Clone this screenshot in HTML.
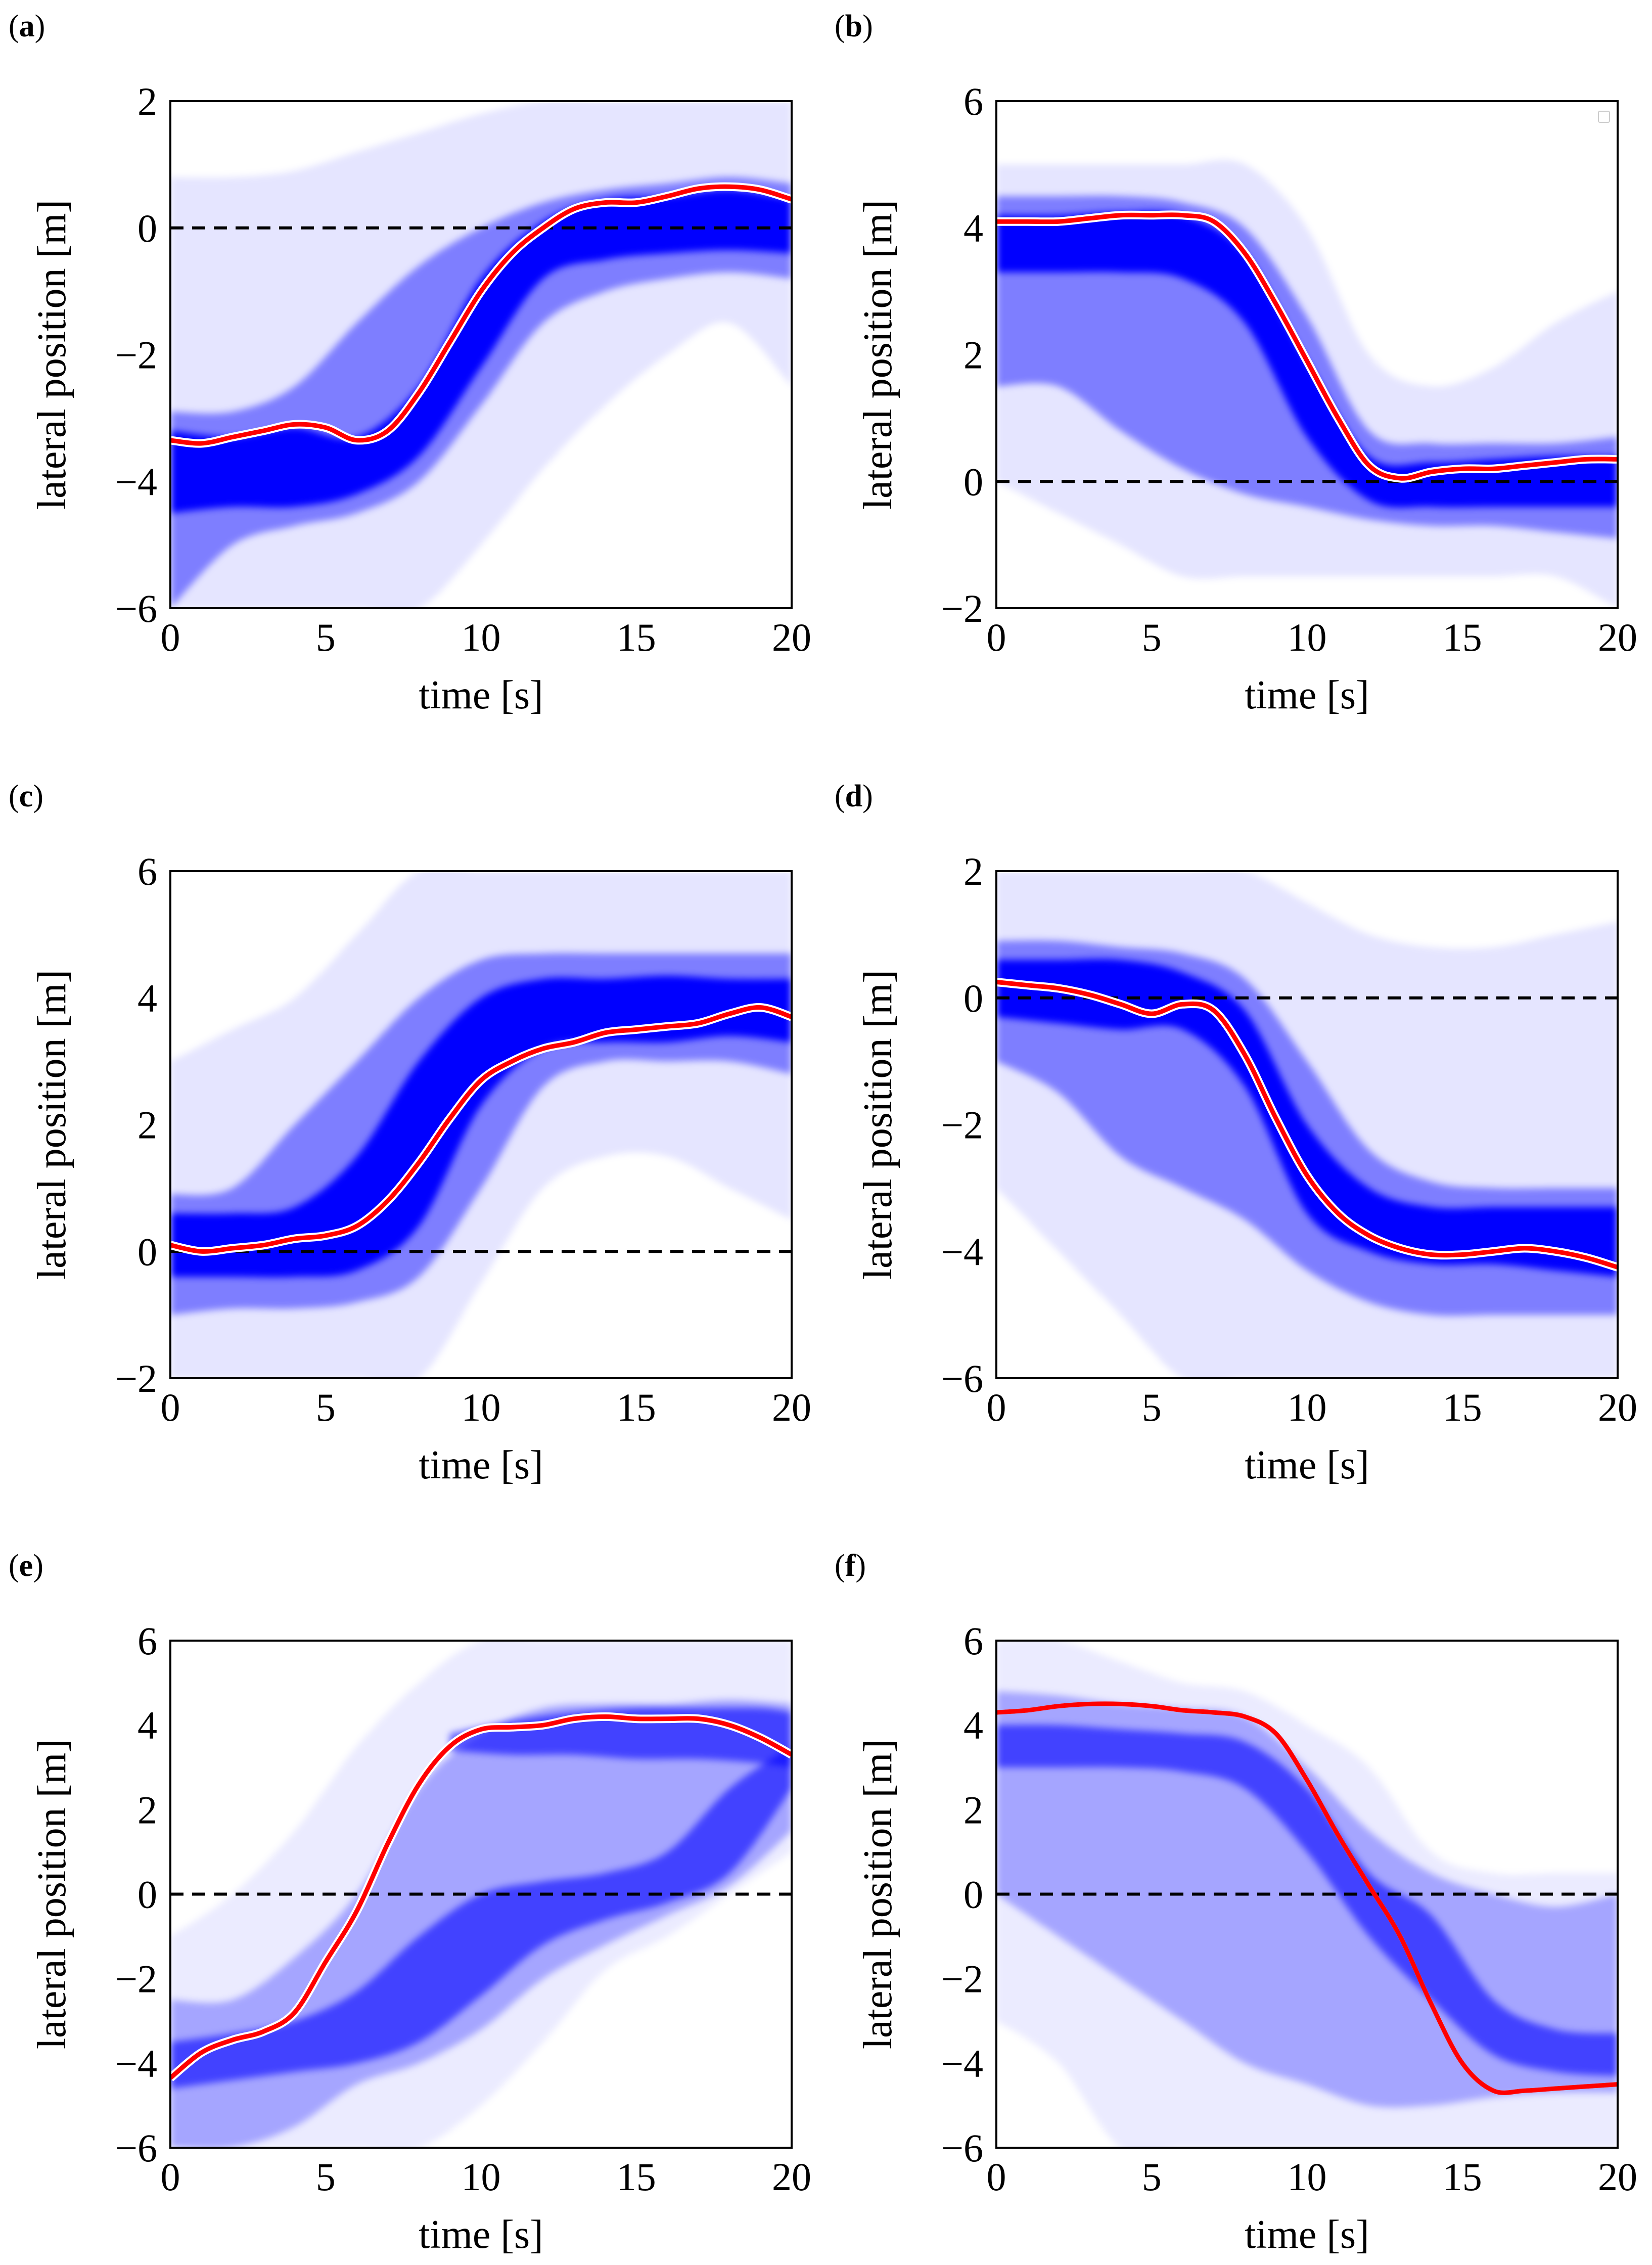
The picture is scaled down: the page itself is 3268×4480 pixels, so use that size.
<!DOCTYPE html>
<html><head><meta charset="utf-8"><style>
html,body{margin:0;padding:0;background:#fff}
svg{display:block}
text{font-family:"Liberation Serif",serif;fill:#000}
</style></head><body>
<svg id="fig" width="3268" height="4480" viewBox="0 0 3268 4480" xmlns="http://www.w3.org/2000/svg">
<defs><filter id="soft" x="-5%" y="-5%" width="110%" height="110%"><feGaussianBlur stdDeviation="7"/></filter></defs>
</svg>
<script>
// ---- data ----
const tMean=[0,1,2,3,4,5,6,7,8,9,10,11,12,13,14,15,16,17,18,19,20];
const tBand=[0,2,4,6,8,10,12,14,16,18,20];
const xTicks=[0,5,10,15,20];
const yTicksA=[-6,-4,-2,0,2];
const yTicksB=[-2,0,2,4,6];
const yTicksE=[-6,-4,-2,0,2,4,6];
const panelLabels=['a','b','c','d','e','f'];

const meanA=[-3.35,-3.4,-3.3,-3.2,-3.1,-3.15,-3.35,-3.2,-2.6,-1.8,-1.0,-0.4,0.0,0.3,0.4,0.4,0.5,0.62,0.65,0.6,0.45];
const coreHiA=[-3.2,-3.3,-3.15,-3.3,-2.5,-0.8,0.1,0.45,0.5,0.6,0.45];
const coreLoA=[-4.5,-4.4,-4.4,-4.2,-3.6,-2.2,-0.8,-0.5,-0.4,-0.35,-0.4];
const midHiA=[-2.9,-2.9,-2.5,-1.5,-0.6,0.0,0.4,0.6,0.7,0.8,0.7];
const midLoA=[-6,-5,-4.7,-4.5,-4.0,-2.8,-1.5,-1.0,-0.8,-0.7,-0.8];
const outHiA=[0.8,0.8,0.9,1.2,1.5,1.8,2,2,2,2,2];
const outLoA=[-6,-6,-6,-6,-6,-5,-3.8,-2.8,-2,-1.5,-2.5];

const meanB=[4.1,4.1,4.1,4.15,4.2,4.2,4.2,4.1,3.6,2.8,1.9,1.0,0.25,0.05,0.15,0.2,0.2,0.25,0.3,0.35,0.35];
const coreHiB=[4.2,4.2,4.25,4.2,3.6,1.9,0.4,0.3,0.35,0.4,0.4];
const coreLoB=[3.3,3.3,3.3,3.2,2.5,0.7,-0.3,-0.4,-0.4,-0.4,-0.4];
const midHiB=[4.5,4.5,4.5,4.4,4.0,2.6,0.8,0.6,0.6,0.6,0.7];
const midLoB=[1.5,1.5,0.8,0.2,-0.2,-0.4,-0.6,-0.7,-0.7,-0.8,-0.9];
const outHiB=[5,5,5,5,5,4,2,1.5,1.8,2.5,3];
const outLoB=[0,-0.5,-1,-1.5,-1.5,-1.5,-1.5,-1.5,-1.5,-1.5,-2];

const meanC=[0.1,0.0,0.05,0.1,0.2,0.25,0.4,0.8,1.4,2.1,2.7,3.0,3.2,3.3,3.45,3.5,3.55,3.6,3.75,3.85,3.7];
const coreHiC=[0.6,0.6,0.7,1.5,3.0,4.0,4.3,4.3,4.35,4.3,4.3];
const coreLoC=[-0.4,-0.4,-0.4,-0.3,0.4,2.3,3.2,3.3,3.3,3.4,3.3];
const midHiC=[0.9,1.0,2,3,4,4.6,4.7,4.7,4.7,4.7,4.7];
const midLoC=[-1,-0.9,-0.9,-0.8,-0.4,1.0,2.6,3.0,3.0,3.0,2.8];
const outHiC=[3,3.5,4,5,6,6,6,6,6,6,6];
const outLoC=[-2,-2,-2,-2,-2,-0.5,1,1.5,1.5,1.0,0.5];

const meanD=[0.25,0.2,0.15,0.05,-0.1,-0.25,-0.1,-0.2,-0.9,-1.9,-2.8,-3.4,-3.75,-3.95,-4.05,-4.05,-4.0,-3.95,-4.0,-4.1,-4.25];
const coreHiD=[0.6,0.6,0.6,0.4,-0.2,-2.0,-3.0,-3.3,-3.3,-3.3,-3.3];
const coreLoD=[-0.3,-0.4,-0.5,-0.5,-1.4,-3.4,-4.0,-4.2,-4.2,-4.3,-4.4];
const midHiD=[0.9,0.9,0.8,0.7,0.3,-1.0,-2.4,-2.9,-3.0,-3.0,-3.0];
const midLoD=[-1.0,-1.5,-2.5,-3.0,-3.5,-4.3,-4.8,-5,-5,-5,-5];
const outHiD=[2,2,2,2,2,1.5,1,0.8,0.8,1,1.2];
const outLoD=[-3,-4,-5,-6,-6,-6,-6,-6,-6,-6,-6];

const meanE=[-4.35,-3.75,-3.45,-3.25,-2.8,-1.6,-0.4,1.2,2.6,3.5,3.9,3.95,4.0,4.15,4.2,4.15,4.15,4.15,4.0,3.7,3.3];
const coreHiE=[-3.5,-3.3,-3.0,-2.3,-1.0,0.0,0.3,0.5,1.0,2.5,3.5];
const coreLoE=[-4.6,-4.4,-4.2,-4.0,-3.5,-2.4,-1.2,-0.6,-0.2,0.5,2.5];
const tCore2E=[9,11,13,15,17,19,20];
const core2HiE=[3.8,4.1,4.3,4.4,4.4,4.4,4.3];
const core2LoE=[3.4,3.3,3.3,3.2,3.2,3.1,3.0];
const midHiE=[-2.5,-2.5,-1.5,0,2.5,3.8,4.4,4.5,4.5,4.6,4.5];
const midLoE=[-6,-6,-5.5,-4.5,-4,-3.2,-2,-1.2,-0.5,0.2,1.5];
const outHiE=[-1,0,1.5,3.5,5,6,6,6,6,6,6];
const outLoE=[-6,-6,-6,-6,-6,-5,-3.5,-1.8,-1,0,1];

const meanF=[4.3,4.35,4.45,4.5,4.5,4.45,4.35,4.3,4.2,3.8,2.7,1.4,0.2,-1.0,-2.6,-4.0,-4.65,-4.65,-4.6,-4.55,-4.5];
const coreHiF=[4.0,4.0,3.9,3.8,3.6,2.5,0.5,-0.5,-2.5,-3.2,-3.3];
const coreLoF=[3.0,3.0,3.0,2.9,2.5,1.0,-1.0,-2.5,-3.8,-4.2,-4.3];
const midHiF=[4.8,4.7,4.5,4.4,4.2,3.0,1.5,0.5,0,-0.3,0];
const midLoF=[0,-1,-2,-3,-4,-4.5,-5,-5,-4.8,-4.7,-4.7];
const outHiF=[6,6,5.5,5,4.8,4,3,1,0.5,0.5,0.5];
const outLoF=[-3,-4,-6,-6,-6,-6,-6,-6,-6,-6,-6];

// ---- layout ----
const NS='http://www.w3.org/2000/svg';
const svg=document.getElementById('fig');
const colX=[337,1971], rowY=[200,1723,3245], PW=1229, PH=1003;
const panels=[
 {yr:[-6,2],yt:yTicksA,mean:meanA,core:[coreHiA,coreLoA],mid:[midHiA,midLoA],out:[outHiA,outLoA],op:[1,0.45,0.1]},
 {yr:[-2,6],yt:yTicksB,mean:meanB,core:[coreHiB,coreLoB],mid:[midHiB,midLoB],out:[outHiB,outLoB],op:[1,0.45,0.1],legend:true},
 {yr:[-2,6],yt:yTicksB,mean:meanC,core:[coreHiC,coreLoC],mid:[midHiC,midLoC],out:[outHiC,outLoC],op:[1,0.45,0.1]},
 {yr:[-6,2],yt:yTicksA,mean:meanD,core:[coreHiD,coreLoD],mid:[midHiD,midLoD],out:[outHiD,outLoD],op:[1,0.45,0.1]},
 {yr:[-6,6],yt:yTicksE,mean:meanE,core:[coreHiE,coreLoE],core2:[core2HiE,core2LoE],t2:tCore2E,mid:[midHiE,midLoE],out:[outHiE,outLoE],op:[0.6,0.3,0.08]},
 {yr:[-6,6],yt:yTicksE,mean:meanF,core:[coreHiF,coreLoF],mid:[midHiF,midLoF],out:[outHiF,outLoF],op:[0.6,0.3,0.08]}
];
function mk(tag,attrs,parent){const e=document.createElementNS(NS,tag);for(const k in attrs)e.setAttribute(k,attrs[k]);(parent||svg).appendChild(e);return e;}
function smooth(pts){ // catmull-rom
 let d='M'+pts[0][0].toFixed(1)+','+pts[0][1].toFixed(1);
 for(let i=0;i<pts.length-1;i++){
  const p0=pts[i-1]||pts[i],p1=pts[i],p2=pts[i+1],p3=pts[i+2]||p2;
  const c1=[p1[0]+(p2[0]-p0[0])/6,p1[1]+(p2[1]-p0[1])/6],c2=[p2[0]-(p3[0]-p1[0])/6,p2[1]-(p3[1]-p1[1])/6];
  d+=' C'+c1.map(v=>v.toFixed(1)).join(',')+' '+c2.map(v=>v.toFixed(1)).join(',')+' '+p2[0].toFixed(1)+','+p2[1].toFixed(1);
 }
 return d;
}
panels.forEach((p,i)=>{
 const x0=colX[i%2], y0=rowY[Math.floor(i/2)];
 const xs=t=>x0+t/20*PW;
 const ys=v=>y0+PH-(v-p.yr[0])/(p.yr[1]-p.yr[0])*PH;
 const g=mk('g',{});
 
 
 const cid='clip'+i;
 const cp=mk('clipPath',{id:cid},g);mk('rect',{x:x0,y:y0,width:PW,height:PH},cp);
 const plot=mk('g',{'clip-path':'url(#'+cid+')'},g);
 const bands=mk('g',{filter:'url(#soft)'},plot);
 function band(ts,hi,lo,op,name){
  const up=ts.map((t,k)=>[xs(t),ys(hi[k])]);
  const dn=ts.map((t,k)=>[xs(t),ys(lo[k])]).reverse();
  const d=smooth(up)+' L'+smooth(dn).slice(1)+' Z';
  const e=mk('path',{d:d,fill:'#0000ff','fill-opacity':op},bands);
  
  
 }
 band(tBand,p.out[0],p.out[1],p.op[2],'trajectory-spread-outer');
 band(tBand,p.mid[0],p.mid[1],p.op[1],'trajectory-spread-mid');
 band(tBand,p.core[0],p.core[1],p.op[0],'trajectory-core');
 if(p.core2) band(p.t2,p.core2[0],p.core2[1],p.op[0],'trajectory-core-lane');
 const zl=mk('line',{x1:x0,x2:x0+PW,y1:ys(0),y2:ys(0),stroke:'#000','stroke-width':6,'stroke-dasharray':'26 17'},plot);
 
 
 const md=smooth(tMean.map((t,k)=>[xs(t),ys(p.mean[k])]));
 const w=mk('path',{d:md,fill:'none',stroke:'#fff','stroke-width':i==5?9:17,'stroke-linejoin':'round'},plot);
 
 
 const r=mk('path',{d:md,fill:'none',stroke:'#ff0000','stroke-width':9,'stroke-linejoin':'round'},plot);
 
 
 const fr=mk('rect',{x:x0,y:y0,width:PW,height:PH,fill:'none',stroke:'#000','stroke-width':4},g);
 
 
 xTicks.forEach(t=>{
  const tx=mk('text',{x:xs(t),y:y0+PH+84,'font-size':78,'text-anchor':'middle'},g);
  tx.textContent=String(t);
  
  
 });
 p.yt.forEach(v=>{
  const ty=mk('text',{x:x0-26,y:ys(v)+27,'font-size':78,'text-anchor':'end'},g);
  ty.textContent=(v<0?'\u2212':'')+Math.abs(v);
  
  
 });
 const xl=mk('text',{x:x0+PW/2,y:y0+PH+198,'font-size':80,'text-anchor':'middle'},g);
 xl.textContent='time [s]';
 
 
 const yx=x0-208, yy=y0+PH/2;
 const yl=mk('text',{x:yx,y:yy,'font-size':80,'text-anchor':'middle',transform:'rotate(-90 '+yx+' '+yy+')'},g);
 yl.textContent='lateral position [m]';
 
 
 const pl=mk('text',{x:x0-320,y:y0-128,'font-size':62},g);
 pl.innerHTML='(<tspan font-weight="bold">'+panelLabels[i]+'</tspan>)';
 
 
 if(p.legend){
  const lg=mk('rect',{x:x0+PW-38,y:y0+20,width:22,height:22,rx:3,fill:'#fff',stroke:'#ccc','stroke-width':2},g);
  
  
 }
});
</script>
</body></html>
